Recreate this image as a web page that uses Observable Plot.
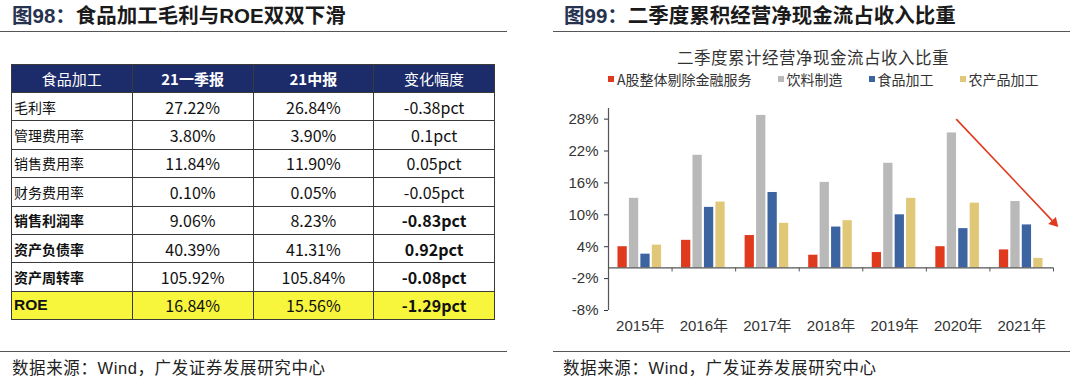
<!DOCTYPE html>
<html><head><meta charset="utf-8">
<script src="https://cdn.jsdelivr.net/npm/d3@7"></script>
<script src="https://cdn.jsdelivr.net/npm/@observablehq/plot@0.6"></script>
<style>
body{margin:0;width:1080px;height:381px;position:relative;background:#fff;overflow:hidden;
 font-family:"Liberation Sans","Noto Sans CJK SC",sans-serif;color:#111}
.title{position:absolute;top:4px;font-size:20.5px;font-weight:bold;color:#1a1a1a;white-space:nowrap;line-height:24px}
.title .num{color:#26324f}
.hr{position:absolute;height:0;border-top:1.5px solid #555}
.src{position:absolute;top:357px;font-size:16.5px;color:#222;white-space:nowrap;line-height:22px;letter-spacing:0.6px}
#tbl{position:absolute;left:11px;top:64px;border-collapse:collapse;table-layout:fixed;width:484px}
#tbl td,#tbl th{border:1px solid #3a3a3a;padding:0;height:27.4px;font-size:16px;text-align:center;vertical-align:middle;
 font-family:"Liberation Sans Narrow","Noto Sans CJK SC",sans-serif;font-weight:normal;white-space:nowrap}
#tbl th{background:#1c2b69;color:#fff;height:27px;font-size:15px;font-family:"Liberation Sans Narrow","Noto Sans CJK SC",sans-serif}
#tbl td.lab{text-align:left;padding-left:2px;font-family:"Noto Sans CJK SC",sans-serif;font-size:14px}
#tbl .b{font-weight:bold}
#tbl tr.hl td{background:#f7f53c}
#ctitle{position:absolute;left:613px;width:400px;top:45px;text-align:center;font-size:16.5px;color:#333;font-family:"Noto Sans CJK SC",sans-serif;letter-spacing:0.5px}
#legend{position:absolute;left:608px;top:69px;display:flex;gap:26px;font-size:14px;color:#333;font-family:"Noto Sans CJK SC",sans-serif;white-space:nowrap}
#legend .it{display:flex;align-items:center}
#legend .sw{width:6px;height:6px;margin-right:3px;display:inline-block}
#chart{position:absolute;left:550px;top:95px}
</style></head>
<body>
<div class="title" style="left:12px"><span class="num">图98：</span>食品加工毛利与ROE双双下滑</div>
<div class="hr" style="left:0;width:507px;top:31px"></div>
<table id="tbl"></table>
<div class="hr" style="left:0;width:507px;top:351px"></div>
<div class="src" style="left:12px">数据来源：Wind，广发证券发展研究中心</div>

<div class="title" style="left:564px"><span class="num">图99：</span>二季度累积经营净现金流占收入比重</div>
<div class="hr" style="left:553px;width:517px;top:31px"></div>
<div id="ctitle">二季度累计经营净现金流占收入比重</div>
<div id="legend"></div>
<div id="chart"></div>
<div class="hr" style="left:553px;width:517px;top:351px"></div>
<div class="src" style="left:563px">数据来源：Wind，广发证券发展研究中心</div>

<script>
// ---- Table data (图98) ----
const tableHeaders = ["食品加工","21一季报","21中报","变化幅度"];
const rowLabels = ["毛利率","管理费用率","销售费用率","财务费用率","销售利润率","资产负债率","资产周转率","ROE"];
const q1Values = ["27.22%","3.80%","11.84%","0.10%","9.06%","40.39%","105.92%","16.84%"];
const midValues = ["26.84%","3.90%","11.90%","0.05%","8.23%","41.31%","105.84%","15.56%"];
const changeValues = ["-0.38pct","0.1pct","0.05pct","-0.05pct","-0.83pct","0.92pct","-0.08pct","-1.29pct"];
const boldRows = [false,false,false,false,true,true,true,true];

// ---- Chart data (图99) ----
const years = [2015,2016,2017,2018,2019,2020,2021];
const seriesNames = ["A股整体剔除金融服务","饮料制造","食品加工","农产品加工"];
const seriesColors = ["#e03a1e","#b9b9b9","#3b64a0","#e0c878"];
const aShareValues = [4.0,5.2,6.1,2.4,2.9,4.0,3.4];
const beverageValues = [13.1,21.2,28.7,16.1,19.7,25.4,12.5];
const foodValues = [2.6,11.4,14.2,7.7,10.0,7.4,8.1];
const agriValues = [4.3,12.4,8.4,8.9,13.1,12.2,1.8];
const yTicks = [-8,-2,4,10,16,22,28];
const arrowAnno = [{x1:2019.97,y1:28.0,x2:2021.56,y2:7.9}];

// build table
const tbl = document.getElementById("tbl");
let html = "<tr>" + tableHeaders.map((h,i)=>`<th${i===1||i===2?' style="font-weight:bold"':''}>${h}</th>`).join("") + "</tr>";
rowLabels.forEach((lab,i)=>{
  const b = boldRows[i];
  const isRoe = lab==="ROE";
  html += `<tr${isRoe?' class="hl"':''}>`+
    `<td class="lab${b?' b':''}"${isRoe?' style="font-family:Liberation Sans,sans-serif;font-size:15.5px"':''}>${lab}</td>`+
    `<td>${q1Values[i]}</td><td>${midValues[i]}</td>`+
    `<td class="${b?'b':''}">${changeValues[i]}</td></tr>`;
});
tbl.innerHTML = html;

// legend
document.getElementById("legend").innerHTML = seriesNames.map((s,i)=>
  `<span class="it"><span class="sw" style="background:${seriesColors[i]}"></span><span>${s}</span></span>`).join("");

// chart
const seriesValues = [aShareValues, beverageValues, foodValues, agriValues];
const barData = [];
seriesNames.forEach((s,si)=>years.forEach((y,yi)=>barData.push({year:y, series:s, si, value:seriesValues[si][yi]})));
const barStep = 0.18, barWidth = 0.146;

const chart = Plot.plot({
  width: 520, height: 250,
  marginLeft: 58, marginRight: 17, marginTop: 13, marginBottom: 35,
  style: {fontSize:"15px", fontFamily:'"Liberation Sans","Noto Sans CJK SC",sans-serif', color:"#333", background:"transparent"},
  x: {domain:[2014.5,2021.5], ticks: years, tickFormat: d => d + "年", tickSize:0, tickPadding:10, label:null},
  y: {domain:[-8,30], ticks: yTicks, tickFormat: d => d + "%", tickSize:4, tickPadding:6, label:null},
  color: {domain: seriesNames, range: seriesColors},
  marks: [
    Plot.rectY(barData, {
      x1: d => d.year + (d.si - 1.5) * barStep - 0.008 - barWidth/2,
      x2: d => d.year + (d.si - 1.5) * barStep - 0.008 + barWidth/2,
      y1: 0, y2: "value", fill: "series"}),
    Plot.ruleY([0], {stroke:"#555", strokeWidth:1.2}),
    Plot.ruleX([2014.5], {y1:-8, y2:30, stroke:"#555", strokeWidth:1.2}),
    Plot.ruleX(years.map(y => y + 0.5), {y1:0, y2:-0.75, stroke:"#555"}),
    // arrow shaft
    Plot.link(arrowAnno, {x1:"x1", y1:"y1", x2: d => d.x2 - 0.08, y2: d => d.y2 + 1.0, stroke:"#e03a1e", strokeWidth:1.6}),
    // filled arrow head
    Plot.dot(arrowAnno, {x: d => d.x2 - 0.05, y: d => d.y2 + 0.62, symbol:"triangle2", r:5, fill:"#e03a1e", rotate:136.7})
  ]
});
document.getElementById("chart").appendChild(chart);
</script>
</body></html>
